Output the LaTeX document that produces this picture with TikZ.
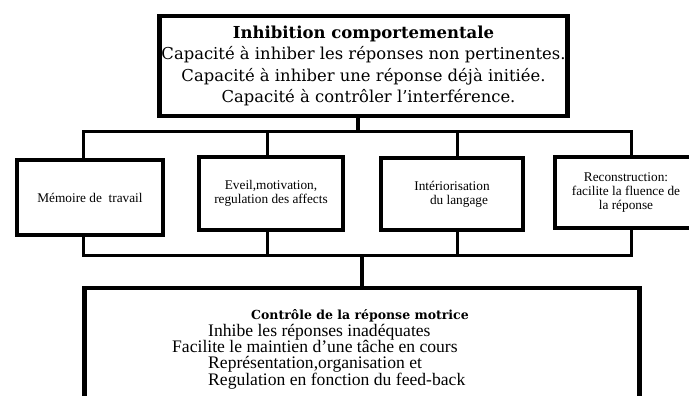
\documentclass[tikz,border=0pt]{standalone}
\usepackage{fontspec}
\setmainfont{Liberation Serif}
\newfontfamily\vera{DejaVu Serif}
\usetikzlibrary{positioning}
\tikzset{
  boxNode/.style={%
    rectangle, draw, line width=4.5pt, inner sep=0pt, align=center,
    font=\fontsize{13.3}{14}\selectfont,
  },
  busLine/.style={%
    line width=3pt, line join=miter,
  },
  linkLine/.style={%
    line width=4.5pt,
  }
}

\begin{document}
\begin{tikzpicture}[x=1pt,y=-1pt]
        \clip (0,0) rectangle (689,396);
        \fill[white] (0,0) rectangle (689,396);
        % top box
        \node[boxNode,minimum width=408pt,minimum height=100pt,
          font=\vera\fontsize{16.4}{21.5}\selectfont] (inhib) at (363.5,66)
          {\textbf{\fontsize{16.5}{21.5}\selectfont Inhibition comportementale}\\
           Capacité à inhiber les réponses non pertinentes.\\
           Capacité à inhiber une réponse déjà initiée.\\
           \hspace*{10pt}Capacité à contrôler l’interférence.};
        % the four boxes
        \foreach \i/\x/\y/\w/\h/\txt in {%
          1/90/197.5/146/75/{Mémoire de~ travail},
          2/271/193.5/144/73/{Eveil,motivation,\\regulation des affects},
          3/452/194/142/72/{Intériorisation\\\hspace*{14pt}du langage},
          4/626/192.5/142/71/{Reconstruction:\\facilite la fluence de\\la réponse}}
        {
          \node[boxNode,minimum width=\w pt,minimum height=\h pt] (node\i) at (\x,\y) {\txt};
        }
        % bottom box
        \node[boxNode,minimum width=555pt,minimum height=135pt,anchor=north] (ctrl) at (362,285.5) {};
        \node[font=\vera\bfseries\fontsize{12.5}{14}\selectfont,inner sep=0pt] (ctrlTitle) at (360,316)
          {Contrôle de la réponse motrice};
        \node[align=left,anchor=west,inner sep=0pt,font=\fontsize{17.6}{16}\selectfont] (ctrlText) at (172,357)
          {\hspace*{36pt}Inhibe les réponses inadéquates\\
           Facilite le maintien d'une tâche en cours\\
           \hspace*{36pt}Représentation,organisation et\\
           \hspace*{36pt}Regulation en fonction du feed-back};
        % junctions
        \coordinate (topJoin) at (358,132);
        \coordinate (topL) at (83,132);
        \coordinate (topR) at (631,132);
        \coordinate (up2) at (267,132);
        \coordinate (up3) at (457,132);
        \coordinate (botJoin) at (362,255);
        \coordinate (botL) at (83,255);
        \coordinate (botR) at (631,255);
        \coordinate (dn2) at (267,255);
        \coordinate (dn3) at (457,255);
        % connectors
        \draw[linkLine] (inhib.south -| topJoin) -- (topJoin);
        \draw[busLine] (node1.north -| topL) -- (topL) -- (topR) -- (node4.north -| topR);
        \draw[busLine] (up2) -- (up2 |- node2.north);
        \draw[busLine] (up3) -- (up3 |- node3.north);
        \draw[busLine] (node1.south -| botL) -- (botL) -- (botR) -- (node4.south -| botR);
        \draw[busLine] (dn2) -- (dn2 |- node2.south);
        \draw[busLine] (dn3) -- (dn3 |- node3.south);
        \draw[linkLine] (botJoin) -- (botJoin |- ctrl.north);
      \end{tikzpicture}
\end{document}
